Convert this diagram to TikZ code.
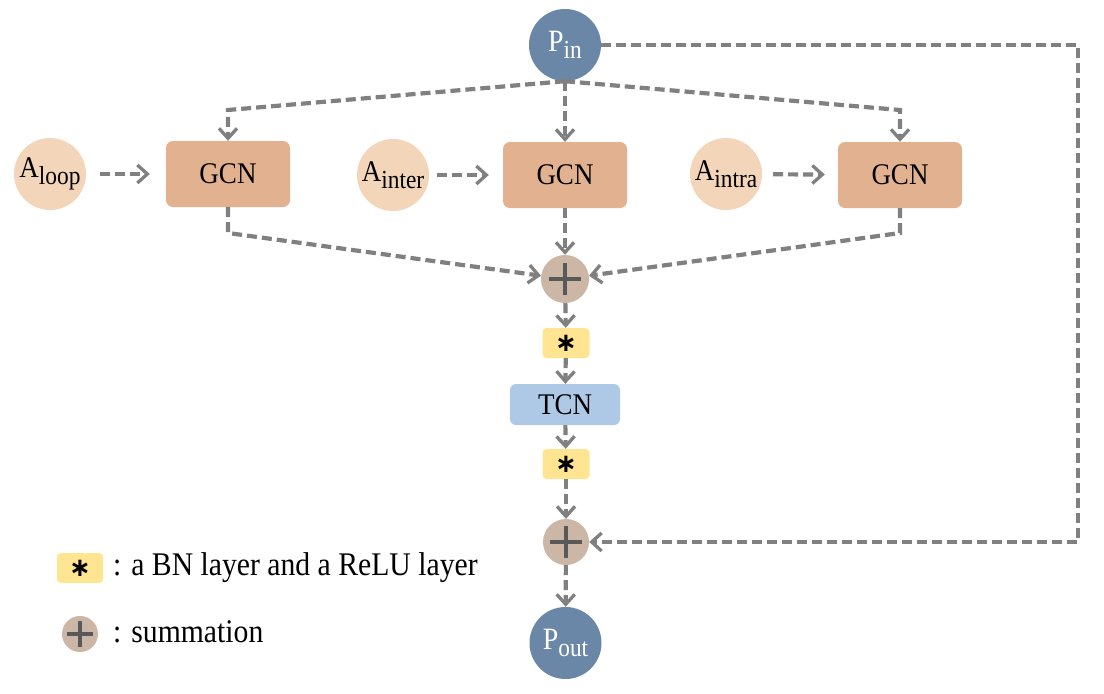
\documentclass[tikz,border=0pt]{standalone}
\usepackage{fontspec}
\setmainfont{Liberation Serif}[FakeStretch=0.9]
\newfontfamily\djv{DejaVu Sans}
\usetikzlibrary{arrows.meta}
\definecolor{pblue}{HTML}{6B87A8}
\definecolor{gcnc}{HTML}{E2B290}
\definecolor{acol}{HTML}{F3D6BA}
\definecolor{sumc}{HTML}{CCB6A6}
\definecolor{bnc}{HTML}{FFE592}
\definecolor{tcnc}{HTML}{AEC9E6}
\definecolor{linec}{HTML}{808080}
\definecolor{plusc}{HTML}{595959}
\newcommand{\mysub}[1]{\raisebox{-0.22em}{\fontsize{26}{28}\selectfont #1}}
\newcommand{\myast}{{\djv\bfseries\fontsize{26}{26}\selectfont\raisebox{-0.1em}{∗}}}
\begin{document}
\begin{tikzpicture}[x=1pt,y=-1pt,
  conn/.style={draw=linec,line width=4.2pt,dash pattern=on 10pt off 5pt,
    -{Straight Barb[length=10pt,width=18pt,line width=3.3pt]}},
  pnode/.style={circle,fill=pblue,minimum size=72pt,inner sep=0pt,text=white,
    font=\fontsize{31}{33}\selectfont},
  gcn/.style={rectangle,rounded corners=7pt,fill=gcnc,minimum width=124pt,
    minimum height=66pt,font=\fontsize{30}{32}\selectfont},
  anode/.style={circle,fill=acol,minimum size=72pt,inner sep=0pt,
    font=\fontsize{30}{32}\selectfont},
  sumn/.style={circle,fill=sumc,minimum size=#1,inner sep=0pt},
  bn/.style={rectangle,rounded corners=4pt,fill=bnc,minimum width=#1,
    minimum height=30pt,inner sep=0pt},
  tcn/.style={rectangle,rounded corners=6pt,fill=tcnc,minimum width=110pt,
    minimum height=41pt,font=\fontsize{30}{32}\selectfont},
  plusl/.style={draw=plusc,line width=#1},
  legtext/.style={anchor=west,font=\fontsize{33}{35}\selectfont,inner sep=0pt}
]
\useasboundingbox (0,0) rectangle (1104,694);

% nodes
\node[pnode] (pin) at (565,45) {P\mysub{in}};
\node[anode] (aloop) at (50,174) {A\mysub{loop}};
\node[anode] (ainter) at (393,175) {A\mysub{inter}};
\node[anode] (aintra) at (726,174) {A\mysub{intra}};
\node[gcn] (g1) at (228,174) {GCN};
\node[gcn] (g2) at (565,175) {GCN};
\node[gcn] (g3) at (900,175) {GCN};
\node[sumn=48pt] (p1) at (565,279) {};
\node[bn=47pt] (s1) at (566,343) {\myast};
\node[tcn] (tcn) at (565,404.5) {TCN};
\node[bn=47pt] (s2) at (566,464) {\myast};
\node[sumn=46pt] (p2) at (566,542) {};
\node[pnode] (pout) at (565.5,643) {P\mysub{out}};

% legend
\node[bn=46pt] (ls) at (80,568) {\myast};
\node[sumn=36pt] (lp) at (80,634) {};
\node[legtext] (lt1) at (113,568) {: a BN layer and a ReLU layer};
\node[legtext] (lt2) at (113,632) {: summation};

% plus signs
\foreach \n/\r/\w in {p1/16/4.5pt,p2/16/4.5pt,lp/13/3.5pt}{
  \draw[plusl=\w] ([xshift=-\r pt]\n.center) -- ([xshift=\r pt]\n.center);
  \draw[plusl=\w] ([yshift=-\r pt]\n.center) -- ([yshift=\r pt]\n.center);
}

% coordinates
\coordinate (k1) at (228,110);
\coordinate (k3) at (900,110);
\coordinate (b1) at (228,233);
\coordinate (b3) at (900,233);
\coordinate (rr) at (1078,45);

% connectors
\draw[conn] (pin.south) -- (k1) -- (g1.north);
\draw[conn] (pin.south) -- (k3) -- (g3.north);
\draw[conn] (pin) -- (g2);
\draw[conn,shorten <=14pt,shorten >=16pt] (aloop) -- (g1);
\draw[conn,shorten <=8pt,shorten >=14pt] (ainter) -- (g2);
\draw[conn,shorten <=11pt,shorten >=13pt] (aintra) -- (g3);
\draw[conn] (g1.south) -- (b1) -- (p1);
\draw[conn] (g3.south) -- (b3) -- (p1);
\draw[conn] (g2) -- (p1);
\draw[conn] (p1) -- (s1);
\draw[conn] (s1) -- (tcn);
\draw[conn] (tcn) -- (s2);
\draw[conn] (s2) -- (p2);
\draw[conn] (p2) -- (pout);
\draw[conn] (pin) -- (rr) |- (p2);
\end{tikzpicture}
\end{document}
